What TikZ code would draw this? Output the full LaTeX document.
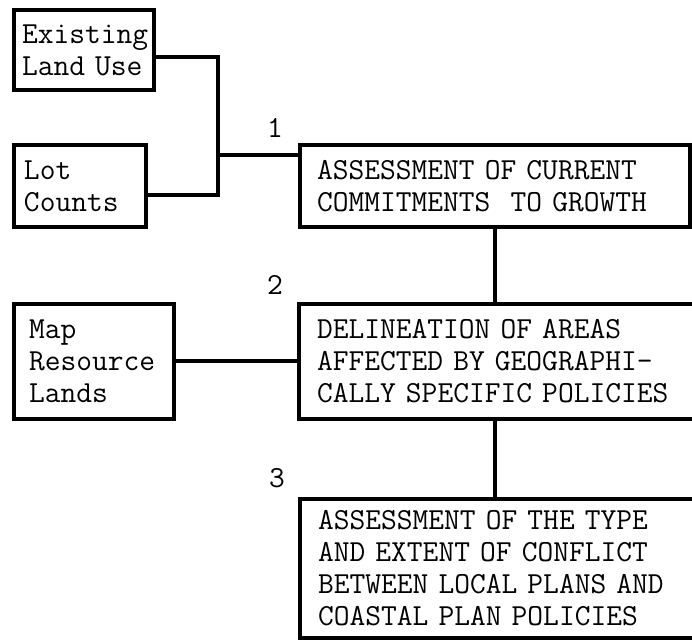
\documentclass[tikz,border=0pt]{standalone}
\usepackage{tikz}
\usetikzlibrary{positioning}

\begin{document}
\begin{tikzpicture}[x=0.5pt,y=-0.5pt,
  box/.style={draw,line width=2pt,anchor=north west,align=left,inner ysep=0pt,
    font=\ttfamily\fontsize{15.3}{16}\selectfont},
  conn/.style={line width=2pt},
  lbl/.style={font=\ttfamily\fontsize{15.3}{16}\selectfont}]
\useasboundingbox (0,0) rectangle (692,640);

% inputs on the left
\node[box,text width=62pt,inner xsep=4pt,minimum height=40pt] (exist) at (12,8) {Existing\\Land Use};
\node[box,text width=56pt,inner xsep=5pt,minimum height=41pt] (lot) at (12,143) {Lot\\Counts};
\node[box,text width=65pt,inner xsep=7.5pt,minimum height=57.5pt] (map) at (12,302) {Map\\Resource\\Lands};

% main steps
\node[box,text width=178pt,inner xsep=8.5pt,minimum height=41pt] (assess) at (298,143)
  {ASSESSMENT OF CURRENT\\COMMITMENTS\ \ TO GROWTH};
\node[box,text width=182pt,inner xsep=9pt,minimum height=57.5pt] (delin) at (297,302)
  {DELINEATION OF AREAS\\AFFECTED BY GEOGRAPHI-\\CALLY SPECIFIC POLICIES};
\node[box,text width=182pt,inner xsep=9pt,minimum height=69.5pt] (conflict) at (298,497)
  {ASSESSMENT OF THE TYPE\\AND EXTENT OF CONFLICT\\BETWEEN LOCAL PLANS AND\\COASTAL PLAN POLICIES};

\node[lbl] (n1) at (275,128) {1};
\node[lbl] (n2) at (275,285) {2};
\node[lbl] (n3) at (277,478) {3};

\coordinate (jn) at (218,155);
\draw[conn] ([yshift=-3.5pt]exist.east) -| (jn) |- ([yshift=-4.5pt]lot.east);
\draw[conn] (jn) -- (jn -| assess.west);
\draw[conn] (assess.south) -- (assess.south |- delin.north);
\draw[conn] (map.east) -- (delin.west);
\draw[conn] (delin.south -| assess.south) -- (conflict.north -| assess.south);
\end{tikzpicture}
\end{document}
